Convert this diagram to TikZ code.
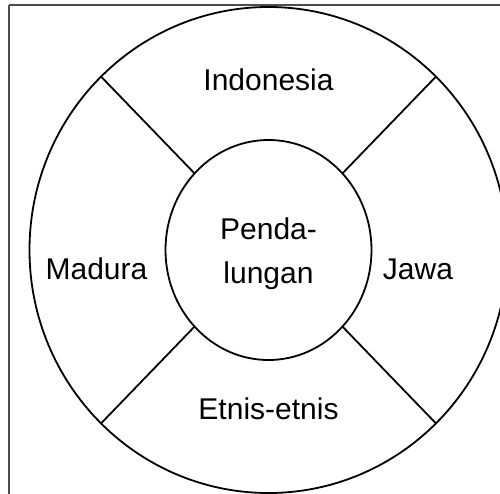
\documentclass[tikz,border=0pt]{standalone}
\usepackage{fontspec}
\setmainfont{Liberation Sans}
\usetikzlibrary{shapes.geometric}
\begin{document}
\begin{tikzpicture}[x=1pt,y=-1pt,
  ring/.style={draw=black,line width=1.8pt,ellipse,inner sep=0pt,outer sep=0pt},
  spoke/.style={draw=black,line width=1.8pt},
  lbl/.style={font=\fontsize{30}{43}\selectfont,anchor=base,inner sep=0pt}]
\useasboundingbox (0,0) rectangle (500,494);
\draw[draw=black!70,line width=1.3pt] (9,5) -- (520,5) (9,5) -- (9,520);
\node[ring,minimum width=478pt,minimum height=486pt] (outer) at (268.5,250) {};
\node[ring,minimum width=206pt,minimum height=220pt] (inner) at (268.5,250) {};
\draw[spoke] (outer.134) -- (inner.134);
\draw[spoke] (outer.46) -- (inner.46);
\draw[spoke] (outer.226) -- (inner.226);
\draw[spoke] (outer.314) -- (inner.314);
\node[lbl] (ind) at (268.5,91) {Indonesia};
\node[lbl] (mad) at (96.5,279) {Madura};
\node[lbl] (jaw) at (418,279) {Jawa};
\node[lbl] (etn) at (268.5,419) {Etnis-etnis};
\node[lbl] (pen1) at (268.5,240) {Penda-};
\node[lbl] (pen2) at (268.5,283) {lungan};
\end{tikzpicture}
\end{document}
